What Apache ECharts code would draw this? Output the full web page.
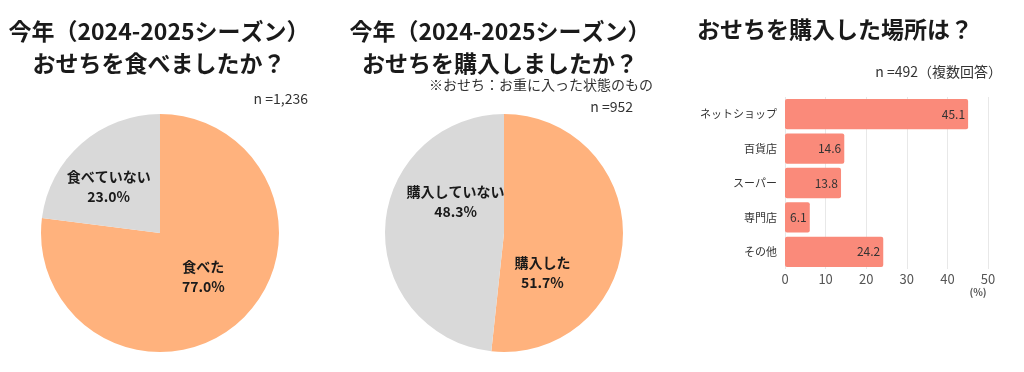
<!DOCTYPE html>
<html><head><meta charset="utf-8">
<script src="https://cdn.jsdelivr.net/npm/echarts@6/dist/echarts.min.js"></script>
<style>html,body{margin:0;padding:0;background:#fff}#c{width:1024px;height:372px}</style>
</head><body><div id="c"></div>
<script>
const pie1Names = ['食べた', '食べていない'];
const pie1Values = [77.0, 23.0];
const pie2Names = ['購入した', '購入していない'];
const pie2Values = [51.7, 48.3];
const barCategories = ['ネットショップ', '百貨店', 'スーパー', '専門店', 'その他'];
const barValues = [45.1, 14.6, 13.8, 6.1, 24.2];
const xTicks = [0, 10, 20, 30, 40, 50];

const FONT = '"Noto Sans CJK JP", "Noto Sans", sans-serif';
const ORANGE = '#FFB27D', GREY = '#D9D9D9', SALMON = '#FA8A7A';

const chart = echarts.init(document.getElementById('c'));
const pieLabel = {
  show: true, position: 'inside', color: '#1a1a1a', fontFamily: FONT,
  fontSize: 14, fontWeight: 'bold', lineHeight: 20,
  formatter: p => p.name + '\n' + p.value.toFixed(1) + '%'
};
const titleStyle = {fontFamily: FONT, fontSize: 23, fontWeight: 'bold', color: '#1a1a1a', lineHeight: 32};
const noteStyle = {fontFamily: FONT, fontSize: 14, fontWeight: 'normal', color: '#333', lineHeight: 18};

chart.setOption({
  animation: false,
  textStyle: {fontFamily: FONT},
  title: [
    {text: '今年（2024-2025シーズン）\nおせちを食べましたか？', left: 159, top: 15, textAlign: 'center', textStyle: titleStyle, padding: 0},
    {text: 'n =1,236', left: 308, top: 90, textAlign: 'right', textStyle: noteStyle, padding: 0},
    {text: '今年（2024-2025シーズン）\nおせちを購入しましたか？', left: 500, top: 15, textAlign: 'center', textStyle: titleStyle, padding: 0},
    {text: '※おせち：お重に入った状態のもの', left: 653, top: 76, textAlign: 'right', textStyle: noteStyle, padding: 0},
    {text: 'n =952', left: 633, top: 98, textAlign: 'right', textStyle: noteStyle, padding: 0},
    {text: 'おせちを購入した場所は？', left: 697, top: 13, textAlign: 'left', textStyle: titleStyle, padding: 0},
    {text: 'n =492（複数回答）', left: 1002, top: 63, textAlign: 'right', textStyle: noteStyle, padding: 0},
    {text: '(%)', left: 978, top: 287, textAlign: 'center', textStyle: {fontFamily: FONT, fontSize: 10, color: '#555'}, padding: 0}
  ],
  grid: {left: 785, right: 36, top: 97, bottom: 103},
  xAxis: {
    type: 'value', min: xTicks[0], max: xTicks[xTicks.length - 1], interval: 10,
    axisLine: {show: false}, axisTick: {show: false},
    splitLine: {lineStyle: {color: '#e8e8e8', width: 1}},
    axisLabel: {color: '#555', fontSize: 13, margin: 4, fontFamily: FONT}
  },
  yAxis: {
    type: 'category', data: barCategories, inverse: true,
    axisLine: {show: false}, axisTick: {show: false},
    axisLabel: {color: '#333', fontSize: 11, margin: 8, fontFamily: FONT}
  },
  series: [
    {
      type: 'pie', center: [160, 233], radius: 119, startAngle: 90, clockwise: true,
      silent: true,
      data: pie1Names.map((n, i) => ({name: n, value: pie1Values[i],
        itemStyle: {color: i === 0 ? ORANGE : GREY},
        label: {offset: i === 0 ? [2, -3] : [-10, 1]}})),
      label: pieLabel, labelLine: {show: false}, itemStyle: {borderWidth: 0}
    },
    {
      type: 'pie', center: [504, 233], radius: 119, startAngle: 90, clockwise: true,
      silent: true,
      data: pie2Names.map((n, i) => ({name: n, value: pie2Values[i],
        itemStyle: {color: i === 0 ? ORANGE : GREY},
        label: {offset: i === 0 ? [-24, 36] : [14, -28]}})),
      label: pieLabel, labelLine: {show: false}, itemStyle: {borderWidth: 0}
    },
    {
      type: 'bar', data: barValues, barCategoryGap: '12%',
      itemStyle: {color: SALMON, borderRadius: 2},
      label: {show: true, position: 'insideRight', distance: 3, color: '#333', fontSize: 12, fontFamily: FONT,
        formatter: p => p.value.toFixed(1)}
    }
  ]
});
</script></body></html>
